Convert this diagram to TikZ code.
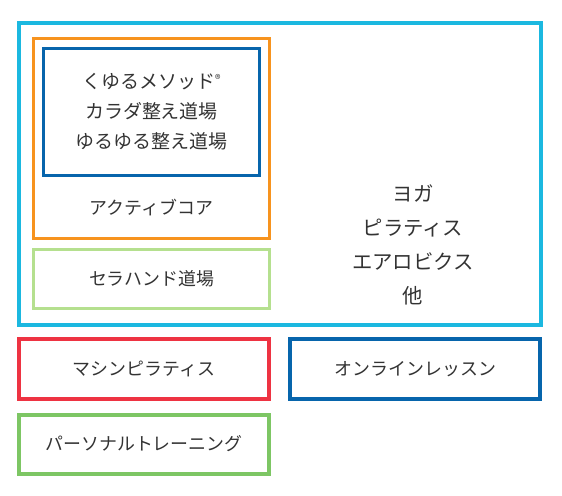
\documentclass[tikz,border=0pt]{standalone}
\usepackage{fontspec}
\setmainfont{Noto Sans CJK JP}
\usepackage{xcolor}
\usepackage{tikz}

\definecolor{skyblue}{HTML}{1BB8E0}
\definecolor{coreorange}{HTML}{F7931E}
\definecolor{deepblue}{HTML}{0765AC}
\definecolor{palegreen}{HTML}{B5E08F}
\definecolor{machinered}{HTML}{EE3342}
\definecolor{leafgreen}{HTML}{7DC664}
\definecolor{textgray}{HTML}{333333}

\begin{document}
\begin{tikzpicture}[x=0.2mm, y=-0.2mm, font=\fontsize{10.2}{17}\selectfont,
		box/.style={draw, line width=#1, inner sep=0pt, outer sep=0pt},
		txt/.style={text=textgray, align=center, inner sep=0pt}]
			% page frame (pixel grid)
			\useasboundingbox (0,0) rectangle (562,496);
			
			% studio frame
			\node[box=0.8mm, draw=skyblue, minimum width=104.3mm, minimum height=60.2mm] (studio) at (280,174) {};
			\node[txt, font=\fontsize{11.6}{19.4}\selectfont] (lessons) at (413,245) {ヨガ\\ピラティス\\エアロビクス\\他};
			
			% active core
			\node[box=0.6mm, draw=coreorange, minimum width=47.1mm, minimum height=39.9mm] (core) at (151.7,138.4) {};
			\node[box=0.6mm, draw=deepblue, minimum width=43mm, minimum height=25.3mm] (method) at (151.5,112.2) {};
			\node[txt, font=\fontsize{10.8}{17}\selectfont] (methodtext) at (151.5,112) {くゆるメソッド\raisebox{0.55ex}{\fontsize{6.5}{6.5}\selectfont ®}\\カラダ整え道場\\ゆるゆる整え道場};
			\node[txt] (coretext) at (151.5,208) {アクティブコア};
			
			% sera hand
			\node[box=0.6mm, draw=palegreen, minimum width=47.1mm, minimum height=11.7mm] (sera) at (151.7,278.9) {};
			\node[txt] (seratext) at (151.7,279) {セラハンド道場};
			
			% outside the studio
			\node[box=0.8mm, draw=machinered, minimum width=50mm, minimum height=11.9mm] (machine) at (144,369) {};
			\node[txt] (machinetext) at (144,369) {マシンピラティス};
			\node[box=0.8mm, draw=deepblue, minimum width=50mm, minimum height=11.9mm] (online) at (415.4,369) {};
			\node[txt] (onlinetext) at (415.4,369) {オンラインレッスン};
			\node[box=0.8mm, draw=leafgreen, minimum width=50mm, minimum height=11.8mm] (personal) at (144,444.2) {};
			\node[txt] (personaltext) at (144,444) {パーソナルトレーニング};
		\end{tikzpicture}
\end{document}
